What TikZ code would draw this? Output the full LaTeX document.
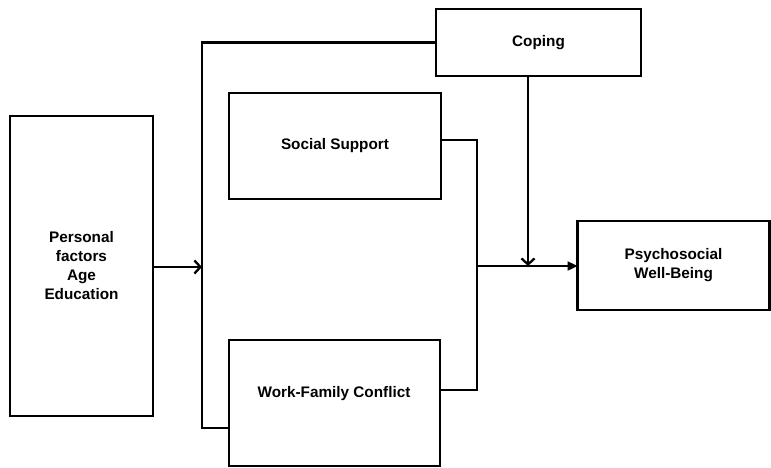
\documentclass[tikz,border=0pt]{standalone}
\usepackage{fontspec}
\setmainfont{Liberation Sans}
\usetikzlibrary{arrows.meta,calc}
\begin{document}
\begin{tikzpicture}[x=1pt,y=-1pt,
  txt/.style={align=center,font=\fontsize{15.3}{19}\selectfont\bfseries},
  box/.style={txt,draw=black,line width=2.3pt,rectangle,inner sep=0pt,outer sep=0pt},
  conn/.style={draw=black,line width=2.3pt},
  openarrow/.style={-{Straight Barb[length=6pt,width=13pt,line width=2.3pt]}},
  filledarrow/.style={-{Triangle[length=10pt,width=9pt]}}]
\useasboundingbox (0,0) rectangle (771,468);
\node[box,minimum width=143pt,minimum height=300pt] (pers) at (81.5,266) {Personal\\factors\\Age\\Education};
\node[box,minimum width=205pt,minimum height=67pt] (coping) at (538.5,42.5) {Coping};
\node[box,minimum width=212pt,minimum height=106pt] (social) at (335,146) {Social  Support};
\node[box,minimum width=211pt,minimum height=126pt] (wfc) at (334.5,403) {};
\node[txt] (wfctext) at (334,394) {Work-Family  Conflict};
\node[box,minimum width=192pt,minimum height=89pt] (psych) at (673.5,265.5) {Psychosocial\\Well-Being};
\coordinate (bt) at (202,42.5);
\coordinate (bm) at (202,267);
\coordinate (bb) at (202,428);
\coordinate (rt) at (477,140);
\coordinate (rb) at (477,390);
\coordinate (j) at (477,266);
\coordinate (ct) at (528,76);
\coordinate (cj) at (528,266);
\draw[conn] (coping.west) -- (bt) -- (bb) -- (bb -| wfc.west);
\draw[conn,openarrow] (pers.east |- bm) -- (bm);
\draw[conn] (rt -| social.east) -- (rt) -- (rb) -- (rb -| wfc.east);
\draw[conn,filledarrow] (j) -- (j -| psych.west);
\draw[conn,openarrow] (ct |- coping.south) -- (cj);
\end{tikzpicture}
\end{document}
